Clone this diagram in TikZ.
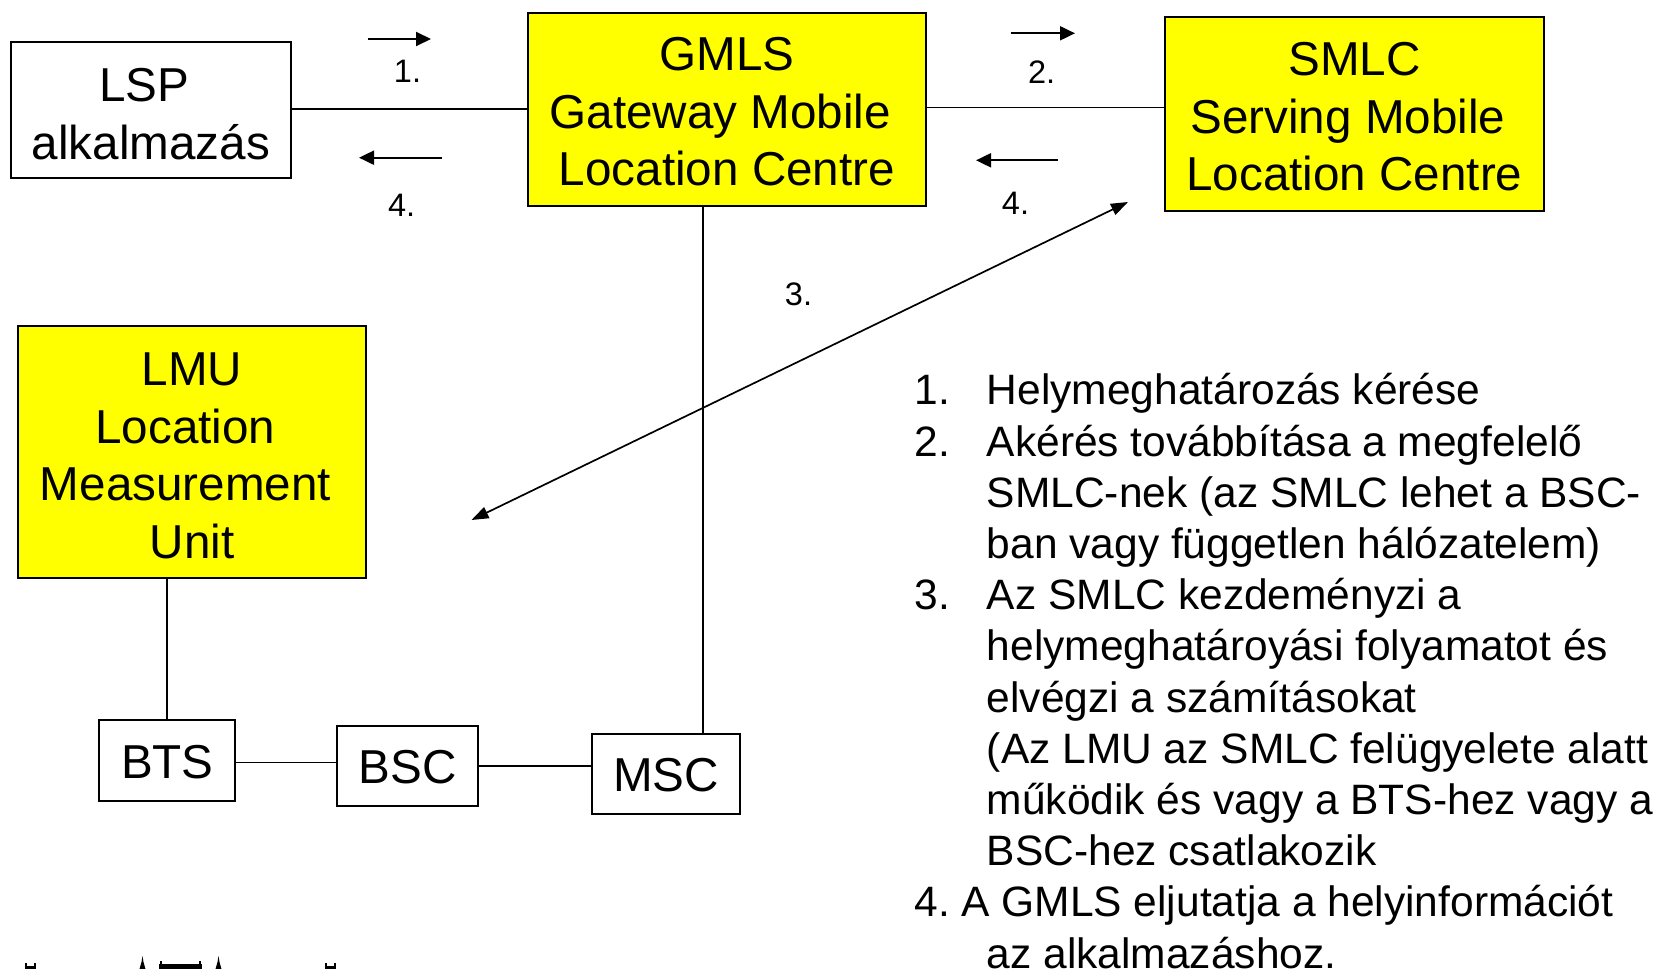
\documentclass[tikz,border=0pt]{standalone}
\usepackage{fontspec}
\setmainfont{Liberation Sans}
\usetikzlibrary{arrows.meta}
\definecolor{boxyellow}{RGB}{255,255,0}
\newcommand\liftline[1]{\rule{0pt}{#1pt}}
\newcommand\trail{\rule{13.2pt}{0pt}}
\tikzset{
  boxnode/.style={draw=black, line width=2pt, inner sep=0pt, align=center,
    font=\fontsize{47.6}{57.5}\selectfont},
  yellowbox/.style={boxnode, fill=boxyellow},
  link/.style={line width=1.7pt},
  smallarrow/.style={line width=2pt, -{Triangle[length=15pt,width=14pt]}},
  diagarrow/.style={line width=1.7pt, {Triangle[length=17pt,width=12pt]}-{Triangle[length=17pt,width=12pt]}},
  steplabel/.style={inner sep=0pt, font=\fontsize{32.5}{39}\selectfont},
  listline/.style={anchor=base west, inner sep=0pt, font=\fontsize{42.5}{51.2}\selectfont},
  logo/.style={fill=black, draw=none}
}
\begin{document}
\begin{tikzpicture}[x=1pt,y=-1pt]
\useasboundingbox (0,0) rectangle (1660,969);

% boxes
\node[boxnode, minimum width=280.5pt, minimum height=135.6pt] (lsp) at (150.9,110.1) {\liftline{41}LSP\trail\\alkalmazás};
\node[yellowbox, minimum width=398pt, minimum height=193.7pt] (gmls) at (727,109.6) {\liftline{38}GMLS\\Gateway Mobile\trail\\Location Centre};
\node[yellowbox, minimum width=379pt, minimum height=194pt] (smlc) at (1354.5,113.7) {\liftline{40}SMLC\\Serving Mobile\trail\\Location Centre};
\node[yellowbox, minimum width=348pt, minimum height=252.6pt] (lmu) at (192,452) {\liftline{40}LMU\\Location\trail\\Measurement\trail\\Unit};
\node[boxnode, minimum width=135.7pt, minimum height=80.7pt] (bts) at (167.3,760.4) {\liftline{36}BTS};
\node[boxnode, minimum width=141pt, minimum height=80.3pt] (bsc) at (407.5,765.9) {\liftline{36}BSC};
\node[boxnode, minimum width=148.8pt, minimum height=80pt] (msc) at (666,774) {\liftline{36}MSC};

% connectors
\draw[link] ([yshift=1pt]lsp.east) -- ([yshift=1pt]lsp.east -| gmls.west);
\draw[link] ([yshift=2pt]gmls.east) -- ([yshift=2pt]gmls.east -| smlc.west);
\draw[link] ([xshift=-24pt]gmls.south) -- ([xshift=-24pt]gmls.south |- msc.north);
\draw[link] (bts.north) -- (bts.north |- lmu.south);
\draw[link] ([yshift=-2pt]bts.east) -- ([yshift=-2pt]bts.east -| bsc.west);
\draw[link] (bsc.east) -- (bsc.east -| msc.west);

% small direction arrows
\coordinate (a1s) at (367.7,39);   \coordinate (a1e) at (431,39);
\coordinate (a4s) at (441.7,157.7); \coordinate (a4e) at (359,157.7);
\coordinate (a2s) at (1010.7,33.3); \coordinate (a2e) at (1075,33.3);
\coordinate (a5s) at (1057.7,160.3); \coordinate (a5e) at (976,160.3);
\draw[smallarrow] (a1s) -- (a1e);
\draw[smallarrow] (a4s) -- (a4e);
\draw[smallarrow] (a2s) -- (a2e);
\draw[smallarrow] (a5s) -- (a5e);

% diagonal double arrow
\coordinate (d1) at (1128,202);
\coordinate (d2) at (471.5,520);
\draw[diagarrow] (d2) -- (d1);

% step labels
\node[steplabel] (s1) at (407.5,71) {1.};
\node[steplabel] (s4a) at (401.7,205) {4.};
\node[steplabel] (s2) at (1041.7,72) {2.};
\node[steplabel] (s4b) at (1015.5,203) {4.};
\node[steplabel] (s3) at (798.5,294) {3.};

% list text
\def\numx{914.5}
\def\txtx{986.7}
\node[listline] (n1) at (\numx,404.8) {1.};
\node[listline] (t1) at (\txtx,404.8) {Helymeghatározás kérése};
\node[listline] (n2) at (\numx,456.0) {2.};
\node[listline] (t2) at (\txtx,456.0) {Akérés továbbítása a megfelelő};
\node[listline] (t3) at (\txtx,507.2) {SMLC-nek (az SMLC lehet a BSC-};
\node[listline] (t4) at (\txtx,558.4) {ban vagy független hálózatelem)};
\node[listline] (n5) at (\numx,609.6) {3.};
\node[listline] (t5) at (\txtx,609.6) {Az SMLC kezdeményzi a};
\node[listline] (t6) at (\txtx,660.8) {helymeghatároyási folyamatot és};
\node[listline] (t7) at (\txtx,712.0) {elvégzi a számításokat};
\node[listline] (t8) at (\txtx,763.2) {(Az LMU az SMLC felügyelete alatt};
\node[listline] (t9) at (\txtx,814.4) {működik és vagy a BTS-hez vagy a};
\node[listline] (t10) at (\txtx,865.6) {BSC-hez csatlakozik};
\node[listline] (n11) at (\numx,916.8) {4.};
\node[listline] (t11) at (961.3,916.8) {A GMLS eljutatja a helyinformációt};
\node[listline] (t12) at (\txtx,968.0) {az alkalmazáshoz.};

% cut-off logo silhouette at bottom left
\fill[logo] (25,963) rectangle (27,969);
\fill[logo] (34,963) rectangle (36,969);
\fill[logo] (25,966) rectangle (36,969);
\fill[logo] (142.5,956) -- (141.5,962) -- (139.5,969) -- (145.5,969) -- (143.5,962) -- cycle;
\fill[logo] (160,961) rectangle (162,969);
\fill[logo] (199,961) rectangle (201,969);
\fill[logo] (159,964) rectangle (202,969);
\fill[logo] (218.5,956) -- (217.5,962) -- (215.5,969) -- (221.5,969) -- (219.5,962) -- cycle;
\fill[logo] (325,963) rectangle (327,969);
\fill[logo] (334,963) rectangle (336,969);
\fill[logo] (325,966) rectangle (336,969);
\end{tikzpicture}
\end{document}
